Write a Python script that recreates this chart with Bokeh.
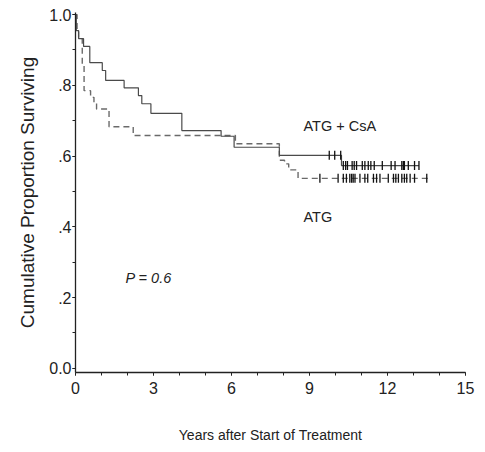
import numpy as np
from bokeh.plotting import figure
from bokeh.models import Range1d, FixedTicker, Label
from bokeh.embed import file_html
from bokeh.resources import INLINE

# ---- data ----
csa_t = [0, 0.03, 0.12, 0.31, 0.55, 1.03, 1.16, 1.87, 2.42, 2.55, 2.9, 4.09, 5.6, 6.1, 7.84, 10.23, 13.21]
csa_s = [1.0, 0.955, 0.932, 0.91, 0.864, 0.842, 0.814, 0.793, 0.771, 0.748, 0.721, 0.672, 0.656, 0.625, 0.602, 0.573, 0.573]

atg_t = [0, 0.06, 0.12, 0.26, 0.33, 0.58, 0.71, 0.81, 1.29, 2.22, 6.15, 7.84, 8.04, 8.2, 8.56, 13.6]
atg_s = [1.0, 0.955, 0.932, 0.86, 0.785, 0.766, 0.752, 0.733, 0.683, 0.658, 0.635, 0.588, 0.578, 0.561, 0.537, 0.537]

csa_cens = [9.76, 9.97, 10.2, 10.3, 10.39, 10.46, 10.64, 10.72, 10.81, 11.03, 11.13, 11.26, 11.36,
            11.49, 11.8, 12.14, 12.29, 12.55, 12.61, 12.65, 12.8, 13.04, 13.21]
atg_cens = [9.4, 10.1, 10.3, 10.42, 10.55, 10.62, 10.68, 10.75, 10.94, 11.13, 11.24, 11.46, 11.58,
            11.71, 12.03, 12.23, 12.32, 12.42, 12.55, 12.65, 12.74, 12.87, 13.04, 13.51]

x_ticks = [0, 3, 6, 9, 12, 15]
y_ticks = [0.0, 0.2, 0.4, 0.6, 0.8, 1.0]
y_tick_labels = ["0.0", ".2", ".4", ".6", ".8", "1.0"]

series_labels = ["ATG + CsA", "ATG"]
p_value_text = "P = 0.6"


def step_value(times, surv, t):
    idx = np.searchsorted(np.asarray(times), t, side="right") - 1
    return [surv[i] for i in idx]


FONT = "Liberation Sans"

p = figure(width=480, height=450, output_backend="svg", toolbar_location=None,
           x_range=Range1d(0, 15), y_range=Range1d(-0.012, 1.006),
           min_border_left=75, min_border_right=15, min_border_top=12, min_border_bottom=78)
p.outline_line_color = None
p.xgrid.visible = False
p.ygrid.visible = False
p.background_fill_color = "white"

# curves
p.step(atg_t, atg_s, mode="after", line_color="#6a6a6a", line_width=1.4, line_dash="6 4")
p.step(csa_t, csa_s, mode="after", line_color="#4a4a4a", line_width=1.2)

# censor marks
p.scatter(csa_cens, step_value(csa_t, csa_s, csa_cens), marker="dash", angle=np.pi / 2,
          size=9, line_color="#111111", line_width=1.3)
p.scatter(atg_cens, step_value(atg_t, atg_s, atg_cens), marker="dash", angle=np.pi / 2,
          size=9, line_color="#111111", line_width=1.3)

# annotations
p.add_layout(Label(x=8.77, y=0.686, text=series_labels[0], text_font=FONT, text_font_size="14.5px",
                   text_color="#222222", text_baseline="middle", text_align="left"))
p.add_layout(Label(x=8.77, y=0.427, text=series_labels[1], text_font=FONT, text_font_size="14.5px",
                   text_color="#222222", text_baseline="middle", text_align="left"))
p.add_layout(Label(x=1.92, y=0.254, text=p_value_text, text_font=FONT, text_font_size="14.5px",
                   text_font_style="italic", text_color="#222222", text_baseline="middle",
                   text_align="left"))

# axes
for ax in (p.xaxis[0], p.yaxis[0]):
    ax.axis_line_color = "#222222"
    ax.axis_line_width = 1.3
    ax.major_tick_line_color = "#222222"
    ax.minor_tick_line_color = "#222222"
    ax.major_tick_in = 0
    ax.major_tick_out = 3
    ax.minor_tick_in = 0
    ax.minor_tick_out = 3
    ax.major_label_text_font = FONT
    ax.major_label_text_font_size = "16px"
    ax.major_label_text_color = "#222222"
    ax.axis_label_text_font_style = "normal"
    ax.axis_label_text_color = "#222222"

p.xaxis.ticker = FixedTicker(ticks=x_ticks, minor_ticks=list(range(0, 16)))
p.yaxis.ticker = FixedTicker(ticks=y_ticks, minor_ticks=[i / 10 for i in range(0, 11)])
p.yaxis.major_label_overrides = {t: l for t, l in zip(y_ticks, y_tick_labels)}
p.xaxis.major_label_standoff = 6
p.yaxis.major_label_standoff = 1

p.xaxis.axis_label = "Years after Start of Treatment"
p.xaxis.axis_label_text_font = FONT
p.xaxis.axis_label_text_font_size = "14px"
p.xaxis.axis_label_standoff = 30

p.yaxis.axis_label = "Cumulative Proportion Surviving"
p.yaxis.axis_label_text_font = FONT
p.yaxis.axis_label_text_font_size = "19px"
p.yaxis.axis_label_standoff = 8

open("out.html", "w").write(file_html(p, INLINE))
